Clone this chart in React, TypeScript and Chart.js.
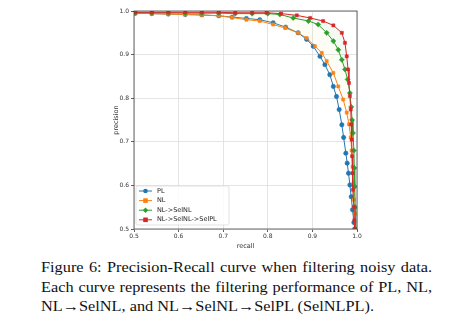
import React, { useEffect, useRef } from "react";
import { Chart, registerables } from "chart.js";

Chart.register(...registerables);

const seriesLabels = ["PL", "NL", "NL->SelNL", "NL->SelNL->SelPL"];
const seriesColors = ["#1f77b4", "#ff7f0e", "#2ca02c", "#d62728"];
const seriesMarkers = ["circle", "rect", "rectRot", "rect"];

const recallPL = [0.503,0.540,0.577,0.615,0.652,0.690,0.720,0.752,0.782,0.812,0.840,0.868,0.887,0.902,0.917,0.928,0.939,0.947,0.954,0.960,0.966,0.970,0.975,0.978,0.981,0.984,0.987,0.990,0.993,0.995];
const precisionPL = [0.995,0.994,0.993,0.992,0.991,0.989,0.986,0.983,0.980,0.973,0.963,0.950,0.935,0.919,0.896,0.877,0.854,0.827,0.804,0.774,0.739,0.710,0.674,0.651,0.628,0.601,0.574,0.544,0.515,0.500];

const recallNL = [0.503,0.540,0.577,0.615,0.652,0.690,0.720,0.752,0.782,0.812,0.839,0.868,0.887,0.906,0.921,0.932,0.947,0.958,0.969,0.977,0.982,0.986,0.988,0.990,0.992,0.993,0.995,0.996];
const precisionNL = [0.995,0.994,0.993,0.992,0.991,0.989,0.985,0.980,0.977,0.969,0.961,0.950,0.938,0.919,0.904,0.885,0.858,0.827,0.797,0.767,0.740,0.710,0.680,0.643,0.605,0.567,0.535,0.500];

const recallSelNL = [0.503,0.540,0.577,0.615,0.652,0.690,0.727,0.765,0.800,0.827,0.857,0.891,0.913,0.932,0.947,0.958,0.966,0.973,0.979,0.984,0.987,0.989,0.991,0.993,0.994,0.995,0.996,0.997];
const precisionSelNL = [0.996,0.996,0.996,0.995,0.995,0.995,0.994,0.994,0.994,0.992,0.984,0.977,0.969,0.950,0.931,0.911,0.888,0.866,0.843,0.812,0.780,0.750,0.720,0.680,0.640,0.597,0.550,0.500];

const recallSelNLPL = [0.503,0.540,0.577,0.615,0.652,0.690,0.727,0.765,0.797,0.830,0.865,0.895,0.924,0.947,0.966,0.973,0.977,0.980,0.982,0.984,0.986,0.987,0.988,0.989,0.990,0.991,0.993,0.994,0.995];
const precisionSelNLPL = [0.997,0.997,0.997,0.997,0.997,0.997,0.996,0.996,0.996,0.994,0.990,0.984,0.977,0.967,0.950,0.927,0.896,0.866,0.835,0.805,0.774,0.740,0.705,0.667,0.628,0.590,0.551,0.520,0.500];

const axisTicks = [0.5, 0.6, 0.7, 0.8, 0.9, 1.0];

const captionLines = [
  "Figure 6: Precision-Recall curve when filtering noisy data.",
  "Each curve represents the filtering performance of PL, NL,",
  "NL\u2192SelNL, and NL\u2192SelNL\u2192SelPL (SelNLPL).",
];

const toPoints = (xs: number[], ys: number[]) => xs.map((x, i) => ({ x, y: ys[i] }));

const legendPlugin = {
  id: "innerLegend",
  afterDraw(chart: any) {
    const { ctx, chartArea } = chart;
    const x0 = chartArea.left + 2;
    const y0 = chartArea.bottom - 43;
    const w = 93;
    const h = 39;
    ctx.save();
    ctx.fillStyle = "rgba(255,255,255,0.85)";
    ctx.strokeStyle = "#dcdcdc";
    ctx.lineWidth = 0.8;
    ctx.beginPath();
    if (ctx.roundRect) ctx.roundRect(x0, y0, w, h, 2);
    else ctx.rect(x0, y0, w, h);
    ctx.fill();
    ctx.stroke();
    ctx.font = "6.5px 'DejaVu Sans'";
    ctx.textBaseline = "middle";
    seriesLabels.forEach((label, i) => {
      const cy = y0 + 5 + i * 9.6;
      const color = seriesColors[i];
      ctx.strokeStyle = color;
      ctx.lineWidth = 1;
      ctx.beginPath();
      ctx.moveTo(x0 + 3, cy);
      ctx.lineTo(x0 + 16, cy);
      ctx.stroke();
      ctx.fillStyle = color;
      const mx = x0 + 9.5;
      const r = 2.3;
      ctx.beginPath();
      if (seriesMarkers[i] === "circle") ctx.arc(mx, cy, r, 0, Math.PI * 2);
      else if (seriesMarkers[i] === "rectRot") {
        ctx.moveTo(mx, cy - r * 1.2);
        ctx.lineTo(mx + r * 1.2, cy);
        ctx.lineTo(mx, cy + r * 1.2);
        ctx.lineTo(mx - r * 1.2, cy);
        ctx.closePath();
      } else ctx.rect(mx - r, cy - r, r * 2, r * 2);
      ctx.fill();
      ctx.fillStyle = "#222";
      ctx.fillText(label, x0 + 21, cy);
    });
    ctx.restore();
  },
};

const framePlugin = {
  id: "frame",
  afterDatasetsDraw(chart: any) {
    const { ctx, chartArea } = chart;
    ctx.save();
    ctx.strokeStyle = "#444";
    ctx.lineWidth = 0.8;
    ctx.strokeRect(chartArea.left, chartArea.top, chartArea.right - chartArea.left, chartArea.bottom - chartArea.top);
    ctx.restore();
  },
};

export default function App() {
  const canvasRef = useRef<HTMLCanvasElement | null>(null);

  useEffect(() => {
    if (!canvasRef.current) return;
    const all = [
      toPoints(recallPL, precisionPL),
      toPoints(recallNL, precisionNL),
      toPoints(recallSelNL, precisionSelNL),
      toPoints(recallSelNLPL, precisionSelNLPL),
    ];
    const fills: any[] = [false, false, { target: 1 }, { target: 2 }];
    const fillColors = ["transparent", "transparent", "rgba(220,230,120,0.07)", "rgba(44,160,44,0.06)"];
    const chart = new Chart(canvasRef.current, {
      type: "line",
      data: {
        datasets: all.map((data, i) => ({
          label: seriesLabels[i],
          data,
          borderColor: seriesColors[i],
          backgroundColor: fillColors[i],
          pointBackgroundColor: seriesColors[i],
          pointBorderColor: seriesColors[i],
          pointStyle: seriesMarkers[i] as any,
          pointRadius: seriesMarkers[i] === "rectRot" ? 2.6 : 2.2,
          pointBorderWidth: 0.5,
          borderWidth: 1,
          tension: 0,
          fill: fills[i],
          order: 4 - i,
        })),
      },
      options: {
        animation: false,
        responsive: false,
        maintainAspectRatio: false,
        layout: { padding: { left: 112, right: 92, top: 11, bottom: 2 } },
        plugins: {
          legend: { display: false },
          tooltip: { enabled: false },
        },
        scales: {
          x: {
            type: "linear",
            min: 0.5,
            max: 1.0,
            afterFit: (s: any) => { s.height = 21; },
            afterBuildTicks: (s: any) => { s.ticks = axisTicks.map((v) => ({ value: v })); },
            ticks: {
              font: { family: "'DejaVu Sans'", size: 6 },
              color: "#333",
              padding: 1,
              maxRotation: 0,
              callback: (v: any) => Number(v).toFixed(1),
            },
            grid: { color: "#dddddd", tickColor: "#333", tickLength: 3, lineWidth: 0.8 },
            border: { display: false },
            title: { display: true, text: "recall", font: { family: "'DejaVu Sans'", size: 6.5 }, color: "#333", padding: { top: 0, bottom: 0 } },
          },
          y: {
            type: "linear",
            min: 0.5,
            max: 1.0,
            afterFit: (s: any) => { s.width = 22; },
            afterBuildTicks: (s: any) => { s.ticks = axisTicks.map((v) => ({ value: v })); },
            ticks: {
              font: { family: "'DejaVu Sans'", size: 6 },
              color: "#333",
              padding: 2,
              callback: (v: any) => Number(v).toFixed(1),
            },
            grid: { color: "#dddddd", tickColor: "#333", tickLength: 3, lineWidth: 0.8 },
            border: { display: false },
            title: { display: true, text: "precision", font: { family: "'DejaVu Sans'", size: 6.5 }, color: "#333", padding: { top: 0, bottom: 0 } },
          },
        },
      },
      plugins: [framePlugin, legendPlugin],
    });
    return () => chart.destroy();
  }, []);

  const scale = 1.14;
  return (
    <div style={{ position: "absolute", left: 0, top: 0, width: 449, height: 326, background: "#fff", overflow: "hidden" }}>
      <canvas ref={canvasRef} width={449} height={252} style={{ position: "absolute", left: 0, top: 0, width: 449, height: 252 }} />
      <div
        style={{
          position: "absolute",
          left: 41,
          top: 258,
          width: 391 / scale,
          transform: `scaleX(${scale})`,
          transformOrigin: "left top",
          fontFamily: "'Liberation Serif', 'Times New Roman', serif",
          fontSize: 14.3,
          lineHeight: "19.5px",
          color: "#111",
        }}
      >
        {captionLines.map((line, i) => (
          <div key={i} style={{ textAlign: i < 2 ? "justify" : "left", textAlignLast: i < 2 ? "justify" : "left", whiteSpace: "nowrap" }}>
            {line}
          </div>
        ))}
      </div>
    </div>
  );
}
